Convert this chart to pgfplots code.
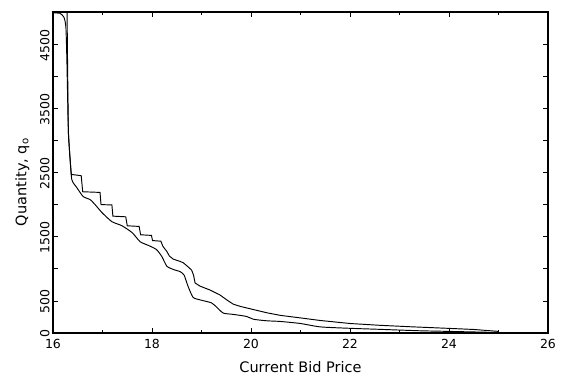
\documentclass[border=0pt]{standalone}
\usepackage{fontspec}
\setmainfont{DejaVu Sans}
\usepackage{pgfplots}
\pgfplotsset{compat=1.18}
\begin{document}
\begin{tikzpicture}
\begin{axis}[
  scale only axis,
  width=495pt, height=321pt,
  xmin=16, xmax=26, ymin=0, ymax=5000,
  axis line style={line width=1.6pt},
  tick style={black, line width=0.8pt},
  tick align=inside,
  major tick length=5pt, minor tick length=3pt,
  xtick={16,18,20,22,24,26},
  minor xtick={17,19,21,23,25},
  xticklabels={16,18,20,22,24,26},
  ytick={0,500,1000,1500,2000,2500,3000,3500,4000,4500,5000},
  yticklabels={0,500,,1500,,2500,,3500,,4500,},
  ticklabel style={font=\fontsize{12.5}{14}\selectfont},
  xticklabel style={yshift=-3pt},
  yticklabel style={rotate=90, anchor=south, xshift=-1pt},
  xlabel={Current Bid Price},
  ylabel={Quantity, q\textsubscript{o}},
  label style={font=\fontsize{14.5}{17}\selectfont},
  xlabel style={yshift=-6pt},
  ylabel style={at={(axis description cs:-0.062,0.47)}, anchor=center},
  clip=true,
]
\addplot[black, line width=0.95pt] coordinates {
(16.28,5600) (16.29,4500) (16.31,3140) (16.34,2750) (16.37,2470)
(16.57,2450) (16.60,2200) (16.95,2190) (16.97,2000) (17.19,1995)
(17.21,1820) (17.47,1810) (17.50,1670) (17.74,1660) (17.77,1530)
(17.99,1520) (18.01,1440) (18.18,1430) (18.22,1350) (18.30,1270)
(18.35,1200) (18.43,1150) (18.55,1120) (18.63,1095) (18.73,1030)
(18.80,980) (18.84,900) (18.87,780) (18.97,730) (19.17,670)
(19.37,594) (19.51,516) (19.64,450) (19.78,415) (20.05,365)
(20.32,315) (20.59,275) (21.0,235) (21.4,195) (22.0,148)
(22.6,120) (23.2,98) (24.0,72) (24.5,55) (25.0,25)
};
\addplot[black, line width=0.95pt, smooth, tension=0.35] coordinates {
(16.0,4985) (16.14,4980) (16.22,4920) (16.26,4770) (16.28,4270)
(16.31,3145) (16.34,2780) (16.38,2390) (16.48,2266) (16.61,2125)
(16.75,2078) (16.85,2000) (16.99,1875) (17.19,1734) (17.39,1672)
(17.60,1563) (17.76,1422) (17.94,1360) (18.09,1300) (18.20,1190)
(18.30,1040) (18.43,990) (18.57,955) (18.65,900) (18.73,724)
(18.83,555) (18.97,516) (19.20,470) (19.31,400) (19.44,310)
(19.64,290) (19.91,258) (20.05,214) (20.32,190) (20.59,180)
(21.0,148) (21.4,95) (22.0,73) (22.6,57) (23.4,35)
(24.0,25) (25.0,8)
};
\end{axis}
\pgfresetboundingbox
\path ([xshift=-53pt,yshift=-48pt]current axis.south west) rectangle ([xshift=15pt,yshift=12pt]current axis.north east);
\end{tikzpicture}
\end{document}
